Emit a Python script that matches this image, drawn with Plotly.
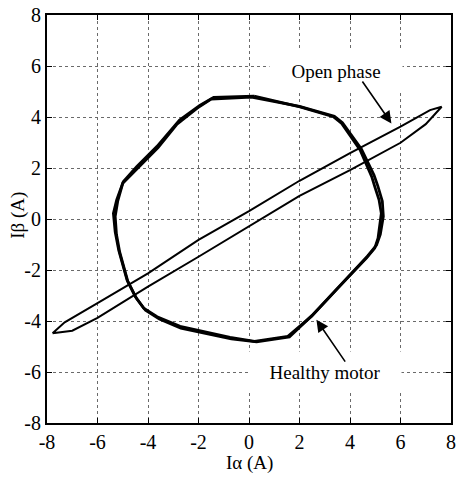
import plotly.graph_objects as go

# Healthy motor trajectory (two traced cycles, slightly different)
healthy_x1 = [0.2, -1.4, -1.95, -2.75, -3.65, -4.45, -4.98, -5.24, -5.37, -5.3, -5.16, -4.83, -4.5, -4.17,
              -3.64, -2.73, -0.75, 0.22, 1.54, 2.47, 3.52, 4.65, 4.98, 5.11, 5.24, 5.15, 4.98, 4.86, 4.4,
              3.67, 3.34, 2.02, 0.2]
healthy_y1 = [4.82, 4.77, 4.45, 3.88, 2.84, 2.05, 1.46, 0.75, 0.22, -0.5, -1.22, -2.39, -3.05, -3.5,
              -3.83, -4.21, -4.64, -4.8, -4.6, -3.82, -2.71, -1.53, -1.14, -0.75, 0.22, 0.75, 1.27, 1.66,
              2.71, 3.75, 4.01, 4.4, 4.82]
healthy_x2 = [0.1, -1.5, -2.05, -2.85, -3.6, -4.4, -5.0, -5.2, -5.3, -5.25, -5.12, -4.8, -4.45, -4.1,
              -3.55, -2.7, -0.7, 0.3, 1.6, 2.5, 3.55, 4.7, 5.05, 5.2, 5.32, 5.28, 5.1, 4.95, 4.45,
              3.7, 3.38, 2.0, 0.1]
healthy_y2 = [4.78, 4.7, 4.35, 3.72, 2.8, 2.0, 1.4, 0.7, 0.1, -0.6, -1.3, -2.45, -3.12, -3.58,
              -3.92, -4.28, -4.7, -4.82, -4.62, -3.78, -2.66, -1.45, -1.02, -0.6, 0.1, 0.7, 1.3, 1.72,
              2.75, 3.78, 4.03, 4.42, 4.78]

# Open-phase trajectory (thin ellipse)
open_x = [-7.78, -7.3, -6.0, -4.0, -2.0, 0.0, 2.0, 4.0, 6.0, 7.17, 7.63,
          7.0, 6.0, 4.0, 2.0, 0.0, -2.0, -4.0, -6.0, -7.0, -7.78]
open_y = [-4.48, -4.05, -3.3, -2.13, -0.82, 0.31, 1.5, 2.58, 3.62, 4.27, 4.4,
          3.72, 2.99, 1.92, 0.91, -0.3, -1.48, -2.65, -3.88, -4.38, -4.48]

tick_vals = [-8, -6, -4, -2, 0, 2, 4, 6, 8]
tick_text = ["-8", "-6", "-4", "-2", "0", "2", "4", "6", "8"]

FONT = "Liberation Serif, Times New Roman, serif"

fig = go.Figure()
fig.add_trace(go.Scatter(x=healthy_x1, y=healthy_y1, mode="lines",
                         line=dict(color="black", width=2.8), showlegend=False))
fig.add_trace(go.Scatter(x=healthy_x2, y=healthy_y2, mode="lines",
                         line=dict(color="black", width=2.8), showlegend=False))
fig.add_trace(go.Scatter(x=open_x, y=open_y, mode="lines",
                         line=dict(color="black", width=2), showlegend=False))

axis_common = dict(
    range=[-8, 8], tickvals=tick_vals, ticktext=tick_text, showgrid=True, gridcolor="#6a6a6a",
    griddash="dot", gridwidth=1, zeroline=False, showline=True, linecolor="black", linewidth=2,
    mirror="ticks", ticks="inside", ticklen=5, tickcolor="black", tickwidth=1, automargin=False,
    tickfont=dict(family=FONT, size=20, color="black"),
)

fig.update_layout(
    width=457, height=477,
    margin=dict(l=47, r=6, t=15, b=54),
    paper_bgcolor="white", plot_bgcolor="white",
    xaxis=dict(**axis_common),
    yaxis=dict(**axis_common),
)

# Axis titles
fig.add_annotation(x=0.5, y=-0.098, xref="paper", yref="paper", text="Iα (A)", showarrow=False,
                   font=dict(family=FONT, size=19, color="black"), xanchor="center", yanchor="middle")
fig.add_annotation(x=-0.072, y=0.51, xref="paper", yref="paper", text="Iβ (A)", showarrow=False,
                   textangle=-90, font=dict(family=FONT, size=19, color="black"),
                   xanchor="center", yanchor="middle")

# Text labels with white background boxes
fig.add_annotation(x=3.45, y=5.8, xref="x", yref="y", text="Open phase", showarrow=False,
                   font=dict(family=FONT, size=19, color="black"), bgcolor="white",
                   width=130, height=40)
fig.add_annotation(x=3.0, y=-6.0, xref="x", yref="y", text="Healthy motor", showarrow=False,
                   font=dict(family=FONT, size=19, color="black"), bgcolor="white",
                   width=150, height=38)
# Arrows
fig.add_annotation(x=5.64, y=3.75, ax=4.45, ay=5.45, xref="x", yref="y", axref="x", ayref="y",
                   text="", showarrow=True, arrowhead=2, arrowsize=1.5, arrowwidth=1.6,
                   arrowcolor="black")
fig.add_annotation(x=2.67, y=-3.95, ax=3.85, ay=-5.65, xref="x", yref="y", axref="x", ayref="y",
                   text="", showarrow=True, arrowhead=2, arrowsize=1.5, arrowwidth=1.6,
                   arrowcolor="black")

fig.write_html("out.html", config={"displayModeBar": False},
               post_script="document.body.style.margin='0';")
